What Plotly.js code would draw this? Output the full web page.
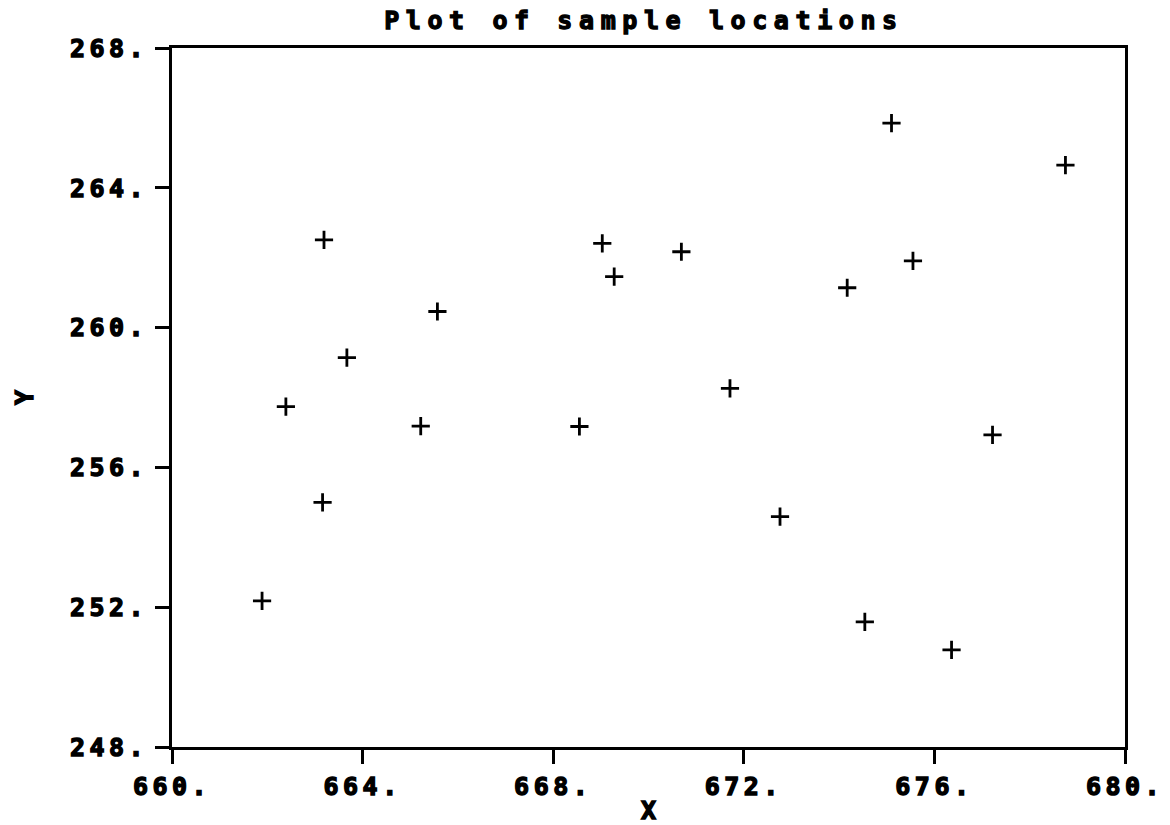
<!DOCTYPE html>
<html>
<head>
<meta charset="utf-8">
<script src="https://cdn.plot.ly/plotly-3.0.1.min.js"></script>
<style>
  html, body { margin: 0; padding: 0; background: #fff; }
  #chart { width: 1170px; height: 825px; }
  .xtick text, .ytick text { letter-spacing: 4.5px; stroke: #000; stroke-width: 1.4px; }
  .gtitle { letter-spacing: 6.6px; stroke: #000; stroke-width: 1.3px; }
  .xtitle, .ytitle { stroke: #000; stroke-width: 1.4px; }
</style>
</head>
<body>
<div id="chart"></div>
<script>
// Sample locations
const sampleX = [661.89, 662.39, 663.16, 663.19, 663.67, 665.22, 665.57, 668.55, 669.03, 669.28,
                 670.69, 671.71, 672.76, 674.17, 674.54, 675.10, 675.55, 676.36, 677.22, 678.75];
const sampleY = [252.18, 257.74, 255.00, 262.51, 259.14, 257.18, 260.46, 257.17, 262.41, 261.46,
                 262.17, 258.26, 254.59, 261.14, 251.58, 265.85, 261.91, 250.78, 256.93, 264.65];

const xTicks = [660, 664, 668, 672, 676, 680];
const xTickLabels = ['660.', '664.', '668.', '672.', '676.', '680.'];
const yTicks = [248, 252, 256, 260, 264, 268];
const yTickLabels = ['248.', '252.', '256.', '260.', '264.', '268.'];

const tickFont = { family: 'DejaVu Sans Mono, Liberation Mono, monospace', size: 25, color: '#000', weight: 'bold' };

const trace = {
  type: 'scatter',
  mode: 'markers',
  x: sampleX,
  y: sampleY,
  marker: { symbol: 'cross-thin', size: 13, color: '#000', line: { color: '#000', width: 2.8 } },
  hoverinfo: 'x+y',
  showlegend: false
};

const axisCommon = {
  showgrid: false,
  zeroline: false,
  showline: true,
  linecolor: '#000',
  linewidth: 2.8,
  mirror: true,
  ticks: 'outside',
  ticklen: 14,
  tickwidth: 2.8,
  tickcolor: '#000',
  tickfont: tickFont,
  tickmode: 'array'
};

const layout = {
  width: 1170,
  height: 825,
  paper_bgcolor: '#fff',
  plot_bgcolor: '#fff',
  margin: { l: 172, r: 45, t: 48, b: 78 },
  title: {
    text: 'Plot of sample locations',
    font: { family: 'DejaVu Sans Mono, Liberation Mono, monospace', size: 25, color: '#000', weight: 'bold' },
    x: 0.5504, xref: 'container', xanchor: 'center',
    y: 0.975, yref: 'container', yanchor: 'middle'
  },
  xaxis: Object.assign({}, axisCommon, {
    range: [660, 680],
    tickvals: xTicks,
    ticktext: xTickLabels,
    ticklabelstandoff: 1,
    title: { text: 'X', font: tickFont, standoff: 8 }
  }),
  yaxis: Object.assign({}, axisCommon, {
    range: [248, 268],
    tickvals: yTicks,
    ticktext: yTickLabels,
    ticklabelstandoff: 2,
    title: { text: 'Y', font: tickFont, standoff: 30 }
  })
};

Plotly.newPlot('chart', [trace], layout, { displayModeBar: false });
</script>
</body>
</html>
